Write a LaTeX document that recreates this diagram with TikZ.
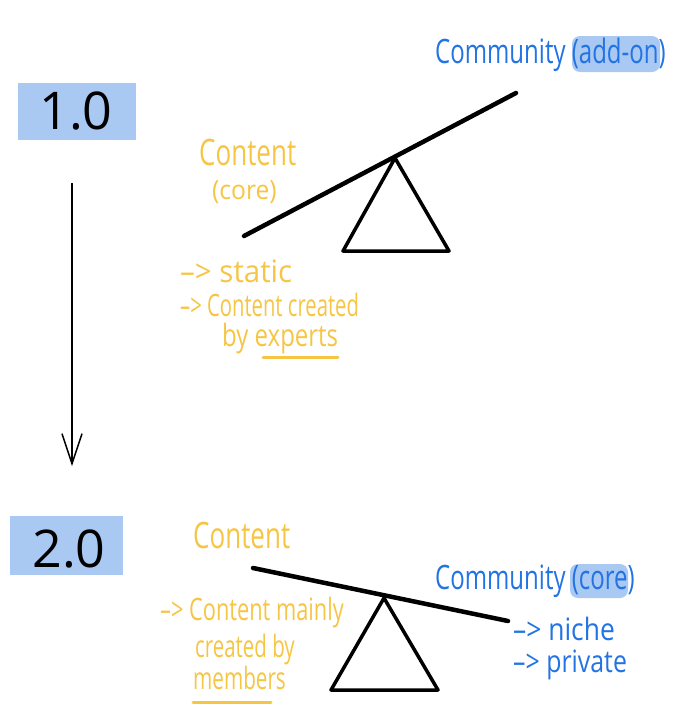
\documentclass[tikz,border=0pt]{standalone}
\usepackage{fontspec}
\setmainfont{Open Sans}
\usetikzlibrary{arrows.meta}
\definecolor{hlblue}{HTML}{A9C9F2}
\definecolor{penblue}{HTML}{2273E3}
\definecolor{penyel}{HTML}{F6C544}
\newcommand\hw[2]{\scalebox{#1}[1.4]{#2}}
\tikzset{
  hl/.style={fill=hlblue, draw=none},
  ver/.style={font=\fontsize{52}{54}\selectfont, text=black, inner sep=0pt},
  blue/.style={font=\fontsize{24}{26}\selectfont, text=penblue, inner sep=0pt, anchor=base west},
  yel/.style={font=\fontsize{26}{28}\selectfont, text=penyel, inner sep=0pt, anchor=base west},
  item/.style={font=\fontsize{22}{24}\selectfont, inner sep=0pt, anchor=base west},
  beam/.style={line width=4.5pt, line cap=round},
  fulcrum/.style={line width=3.5pt, line join=round},
  uline/.style={line width=3pt, penyel, line cap=round},
}
\begin{document}
\begin{tikzpicture}[x=1pt,y=-1pt]
\useasboundingbox (0,0) rectangle (685,723);
% version boxes
\fill[hl] (18,83) rectangle (136,140);
\node[ver] (v1) at (76,111) {1.0};
\fill[hl] (10,516) rectangle (123,575);
\node[ver] (v2) at (69,549) {2.0};
\coordinate (a1) at (72,183);
\coordinate (a2) at (72,466);
\draw[line width=1.5pt, -{Straight Barb[length=30pt,width=20pt,line width=1.5pt]}] (a1) -- (a2);
% seesaw 1
\coordinate (b1l) at (244,236);
\coordinate (b1r) at (516,93);
\draw[beam] (b1l) -- (b1r);
\coordinate (t1a) at (395,158);
\coordinate (t1l) at (343,251);
\coordinate (t1r) at (449,251);
\draw[fulcrum] (t1a) -- (t1l) -- (t1r) -- cycle;
% labels 1
\fill[hl, rounded corners=8pt] (572,36) rectangle (660,72);
\node[blue] (c1) at (435,63) {\hw{1}{Community (add-on)}};
\node[yel] (k1) at (199,165) {\hw{1}{Content}};
\node[yel, font=\fontsize{22}{24}\selectfont] (k1b) at (212,199) {\scalebox{1.12}[1.2]{(core)}};
\node[item, text=penyel] (s1) at (180,282) {\hw{1.34}{-->\ static}};
\node[item, text=penyel] (s2) at (180,316) {\hw{0.92}{-->\ Content created}};
\node[item, text=penyel] (s3) at (222,346) {\hw{1.09}{by experts}};
\draw[uline] (263,357) -- (338,357);
% seesaw 2
\coordinate (b2l) at (253,568);
\coordinate (b2r) at (508,621);
\draw[beam] (b2l) -- (b2r);
\coordinate (t2a) at (384,598);
\coordinate (t2l) at (331,690);
\coordinate (t2r) at (438,690);
\draw[fulcrum] (t2a) -- (t2l) -- (t2r) -- cycle;
% labels 2
\node[yel] (k2) at (193,548) {\hw{1}{Content}};
\fill[hl, rounded corners=8pt] (570,564) rectangle (628,598);
\node[blue] (c2) at (435,589) {\hw{1}{Community (core)}};
\node[item, text=penblue] (n1) at (513,640) {\hw{1.2}{-->\ niche}};
\node[item, text=penblue] (n2) at (513,672) {\hw{1.13}{-->\ private}};
\node[item, text=penyel] (m1) at (160,620) {\hw{0.99}{-->\ Content mainly}};
\node[item, text=penyel] (m2) at (195,657) {\hw{0.93}{created by}};
\node[item, text=penyel] (m3) at (193,689) {\hw{0.94}{members}};
\draw[uline] (193,702) -- (271,702);
\end{tikzpicture}
\end{document}
